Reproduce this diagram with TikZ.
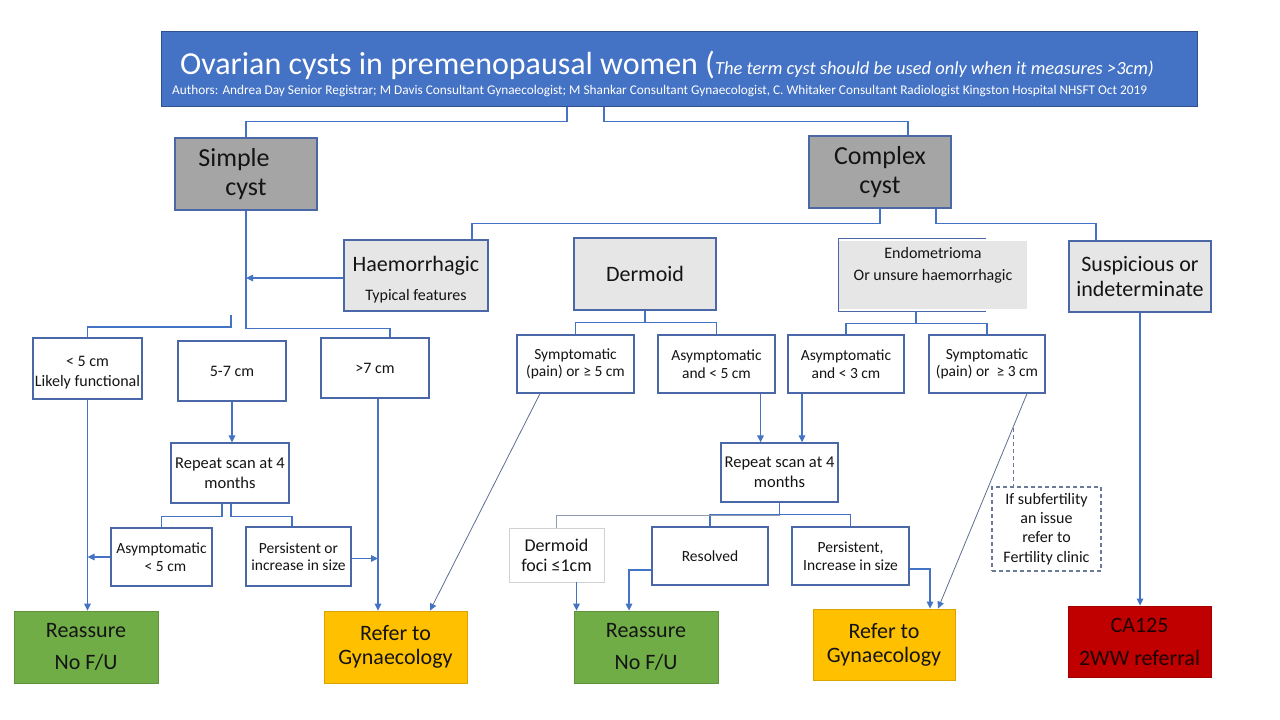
\documentclass[tikz,border=0pt]{standalone}
\usepackage{fontspec}
\setmainfont{Carlito}
\usetikzlibrary{arrows.meta}
\definecolor{titleblue}{RGB}{68,114,196}
\definecolor{titleedge}{RGB}{47,82,143}
\definecolor{edgeblue}{RGB}{74,104,168}
\definecolor{connblue}{RGB}{68,114,196}
\definecolor{thinline}{RGB}{95,110,145}
\definecolor{cystgray}{RGB}{166,165,165}
\definecolor{palegray}{RGB}{231,230,230}
\definecolor{okgreen}{RGB}{112,173,71}
\definecolor{refamber}{RGB}{255,192,0}
\definecolor{urgentred}{RGB}{192,0,0}
\definecolor{inktext}{RGB}{20,20,20}
\definecolor{catext}{RGB}{30,0,0}
\definecolor{dashedge}{RGB}{107,122,153}
\tikzset{
  dims/.style 2 args={minimum width=#1pt, minimum height=#2pt},
  box/.style={draw=edgeblue, line width=1.3pt, fill=white, inner sep=0pt, align=center, text=inktext, font=\fontsize{15.5}{17.5}\selectfont},
  bigbox/.style={box, fill=palegray, font=\fontsize{22}{25}\selectfont},
  cystbox/.style={box, fill=cystgray, font=\fontsize{26}{29}\selectfont},
  outcome/.style={inner sep=0pt, align=center, text=inktext, draw=#1!85!black, line width=0.8pt, fill=#1, font=\fontsize{22}{24}\selectfont},
  plaintext/.style={align=center, inner sep=0pt, text=inktext},
  conn/.style={draw=connblue, line width=1.4pt},
  arr/.style={conn, -{Triangle[length=7pt,width=6.5pt]}},
  thinarr/.style={draw=thinline, line width=0.8pt, -{Triangle[length=7pt,width=6.5pt,color=connblue]}},
  thinconn/.style={draw=thinline!70!white, line width=1pt},
  dashconn/.style={draw=dashedge, line width=1pt, dash pattern=on 4pt off 3pt}
}
\begin{document}
\begin{tikzpicture}[x=1pt,y=-1pt]
\fill[white] (0,0) rectangle (1280,720);
\useasboundingbox (0,0) rectangle (1280,720);

% title
\node[draw=titleedge, fill=titleblue, line width=1pt, dims={1036}{75}] (title) at (679,68.5) {};
\node[anchor=base west, text=white, inner sep=0pt] (titletext) at (180,74)
  {{\fontsize{32}{34}\selectfont Ovarian cysts in premenopausal women (}{\fontsize{18.5}{20}\selectfont\itshape The term cyst should be used only when it measures >3cm)}};
\node[anchor=base west, text=white, inner sep=0pt, font=\fontsize{13.3}{15}\selectfont] (authors) at (172,94.5)
  {Authors: Andrea Day Senior Registrar; M Davis Consultant Gynaecologist; M Shankar Consultant Gynaecologist, C. Whitaker Consultant Radiologist Kingston Hospital NHSFT Oct 2019};

% level 1
\node[cystbox, dims={142}{72}] (simple) at (246,174) {Simple\rule{24pt}{0pt}\\cyst};
\node[cystbox, dims={142}{72}] (complex) at (880,172) {Complex\\cyst};

% level 2
\node[bigbox, dims={144}{71}] (haem) at (416,275.5) {};
\node[plaintext, anchor=base, font=\fontsize{22}{26}\selectfont] (haemtext) at (416,271.5) {Haemorrhagic};
\node[plaintext, anchor=base, font=\fontsize{16}{18}\selectfont] (haemsub) at (416,300.5) {Typical features};
\node[bigbox, dims={142}{72}] (dermoid) at (645,274) {Dermoid};
\node[inner sep=0pt, fill=palegray, dims={188}{68}] (endo) at (933,275) {};
\draw[draw=edgeblue, line width=1.3pt] ([shift={(-41,-2)}]endo.north east) -- ([shift={(0,-2)}]endo.north west)
  -- ([shift={(0,2)}]endo.south west) -- ([shift={(-41,2)}]endo.south east);
\node[plaintext, font=\fontsize{16}{22}\selectfont] (endotext) at (933,265)
  {Endometrioma\\Or unsure haemorrhagic};
\node[bigbox, dims={142}{71}] (susp) at (1140,276.5) {Suspicious or\\indeterminate};

% simple branch boxes
\node[box, dims={109}{61}, font=\fontsize{16}{20}\selectfont] (lt5) at (87.5,368.5) {};
\node[plaintext, font=\fontsize{16}{20}\selectfont] (lt5text) at (87.5,372.5) {< 5 cm\\Likely functional};
\node[box, dims={108}{60}, font=\fontsize{16}{18}\selectfont] (five7) at (232,371) {5-7 cm};
\node[box, dims={108}{60}, font=\fontsize{16}{18}\selectfont] (gt7) at (375,368) {>7 cm};
\node[box, dims={118}{60}, font=\fontsize{16.5}{20}\selectfont] (rep1) at (230,473) {Repeat scan at 4\\months};
\node[box, dims={101}{58}] (asym1) at (161.5,557) {Asymptomatic\\\hspace*{8pt}< 5 cm};
\node[box, dims={105}{59}] (pers1) at (298.5,556.5) {Persistent or\\increase in size};

% complex branch boxes
\node[box, dims={117}{58}] (sym1) at (575.5,364) {Symptomatic\\(pain) or ≥ 5 cm};
\node[box, dims={117}{58}] (asymd) at (716.5,364) {Asymptomatic\\and < 5 cm};
\node[box, dims={116}{58}] (asymE) at (846,364) {Asymptomatic\\and < 3 cm};
\node[box, dims={116}{58}] (symE) at (987,364) {Symptomatic\\(pain) or \ ≥ 3 cm};
\node[box, dims={117}{59}, font=\fontsize{16.5}{20}\selectfont] (rep2) at (779.5,472.5) {Repeat scan at 4\\months};
\node[box, draw=black!18, line width=0.8pt, dims={95}{54}, font=\fontsize{18}{20}\selectfont] (foci) at (556.5,555) {Dermoid\\foci ≤1cm};
\node[box, dims={116}{58}] (resolved) at (710,556) {Resolved};
\node[box, dims={117}{58}] (pers2) at (850.5,556) {Persistent,\\Increase in size};
\node[box, draw=dashedge, line width=1.2pt, dash pattern=on 4pt off 3pt, dims={109}{84}, font=\fontsize{16}{19.3}\selectfont] (fert) at (1046.5,529)
  {If subfertility\\an issue\\refer to\\Fertility clinic};

% outcomes
\node[outcome=okgreen, dims={144}{72}, font=\fontsize{22}{32}\selectfont] (reass1) at (86,647) {Reassure\\No F/U};
\node[outcome=refamber, dims={143}{72}] (refer1) at (395.5,647) {Refer to\\Gynaecology};
\node[outcome=okgreen, dims={144}{72}, font=\fontsize{22}{32}\selectfont] (reass2) at (646,647) {Reassure\\No F/U};
\node[outcome=refamber, dims={142}{71}] (refer2) at (884,644.5) {Refer to\\Gynaecology};
\node[outcome=urgentred, dims={143}{71}, text=catext, font=\fontsize{22}{33}\selectfont] (ca) at (1139.5,641.5)
  {\textcolor{catext}{CA125}\\\textcolor{catext}{2WW referral}};

% connectors from title
\draw[conn] ([xshift=-112pt]title.south) -- ++(0,15) -| (simple.north);
\draw[conn] ([xshift=-75pt]title.south) -- ++(0,15) -| ([xshift=28pt]complex.north);

% from complex
\draw[conn] (complex.south) -- ++(0,15) -| ([xshift=56pt]haem.north);
\draw[conn] ([xshift=56pt]complex.south) -- ++(0,15) -| ([xshift=-44pt]susp.north);

% simple cyst branch
\draw[conn] (simple.south) -- ++(0,118) -| ([xshift=15pt]gt7.north);
\draw[arr] ([yshift=-2.5pt]haem.west) -- ([yshift=-2.5pt]haem.west -| simple.south);
\coordinate (lstart) at (231,315);
\draw[conn] (lstart) -- ++(0,12) -| (lt5.north);
\draw[arr] (lt5.south) -- (lt5.south |- reass1.north);
\draw[arr] (five7.south) -- (five7.south |- rep1.north);
\coordinate (gt7b) at ([xshift=3pt]gt7.south);
\draw[arr] (gt7b) -- (gt7b |- refer1.north);
\draw[conn] ([xshift=-8pt]rep1.south) -- ++(0,13) -| (asym1.north);
\draw[conn] ([xshift=1pt]rep1.south) -- ++(0,13) -| ([xshift=-6.5pt]pers1.north);
\draw[arr] (asym1.west) -- (asym1.west -| lt5.south);
\draw[arr] ([yshift=-2pt]pers1.east) -- ([yshift=-2pt]pers1.east -| gt7b);

% dermoid branch
\draw[conn] (dermoid.south) -- ++(0,12);
\draw[conn] (sym1.north) |- ([yshift=-12pt]dermoid.south -| asymd.north) -- (asymd.north);
\draw[thinarr] ([xshift=-35.5pt]sym1.south) -- ([xshift=34.5pt]refer1.north);
\draw[arr] ([xshift=44pt]asymd.south) -- ([xshift=44pt]asymd.south |- rep2.north);

% endometrioma branch
\coordinate (endob) at ([shift={(-17,2)}]endo.south);
\draw[conn] (endob) -- ++(0,12);
\draw[conn] (asymE.north) |- ([yshift=-12pt]endob -| symE.north) -- (symE.north);
\draw[arr] ([xshift=-44pt]asymE.south) -- ([xshift=-44pt]asymE.south |- rep2.north);
\draw[thinarr] ([xshift=40pt]symE.south) -- ([xshift=54pt]refer2.north);
\coordinate (dstart) at (1013,428);
\draw[dashconn] (dstart) -- (dstart |- fert.north);

% repeat scan 2 outcomes
\draw[conn] (rep2.south) -- ++(0,12);
\draw[conn] (resolved.north) |- ([yshift=-12pt]rep2.south) -| (pers2.north);
\draw[thinconn] ([yshift=-13pt]rep2.south) -| (foci.north);
\draw[arr] ([xshift=20pt]foci.south) -- ([xshift=20pt]foci.south |- reass2.north);
\draw[arr] ([yshift=-14pt]resolved.west) -| ([xshift=-17pt]reass2.north);
\draw[arr] ([yshift=-13pt]pers2.east) -| ([xshift=46pt]refer2.north);

% suspicious
\draw[arr] (susp.south) -- (susp.south |- ca.north);
\end{tikzpicture}
\end{document}
